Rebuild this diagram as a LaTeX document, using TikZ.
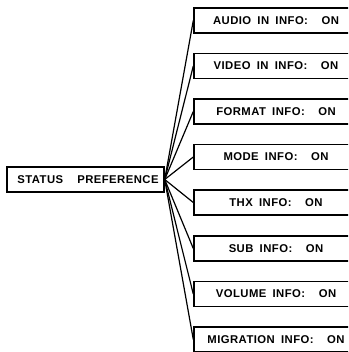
\documentclass[tikz,border=0pt]{standalone}
\usepackage{fontspec}
\setmainfont{Liberation Sans}
\begin{document}
\begin{tikzpicture}[x=1pt,y=-1pt,
  lbl/.style={font=\fontsize{11.3}{13}\selectfont\bfseries\addfontfeature{LetterSpace=4}},
  parent/.style={draw,line width=1.4pt,inner sep=0pt,minimum width=157pt,minimum height=25pt,lbl},
  child/.style={draw,line width=1.4pt,inner sep=0pt,minimum width=164pt,minimum height=25pt,lbl},
  link/.style={line width=1.2pt}]
\useasboundingbox (0,0) rectangle (348,352);
\clip (0,0) rectangle (348,352);
\newcommand{\gap}{\hspace{0.55em}}
\newcommand{\biggap}{\hspace{1.2em}}
\node[parent] (status) at (85.5,179.5) {\hspace{5pt}STATUS\hspace{1.25em}PREFERENCE};
\node[child] (audio)   at (276,20.5)  {AUDIO\gap IN\gap INFO:\biggap ON};
\node[child] (video)   at (276,66)    {VIDEO\gap IN\gap INFO:\biggap ON};
\node[child] (format)  at (276,111.5) {FORMAT\gap INFO:\biggap ON};
\node[child] (mode)    at (276,157)   {MODE\gap INFO:\biggap ON};
\node[child] (thx)     at (276,202.5) {THX\gap INFO:\biggap ON};
\node[child] (sub)     at (276,248.5) {SUB\gap INFO:\biggap ON};
\node[child] (volume)  at (276,294)   {VOLUME\gap INFO:\biggap ON};
\node[child] (migr)    at (276,339.5) {MIGRATION\gap INFO:\biggap ON};
\foreach \n in {audio,video,format,mode,thx,sub,volume,migr}
  \draw[link] (status.east) -- (\n.west);
\end{tikzpicture}
\end{document}
